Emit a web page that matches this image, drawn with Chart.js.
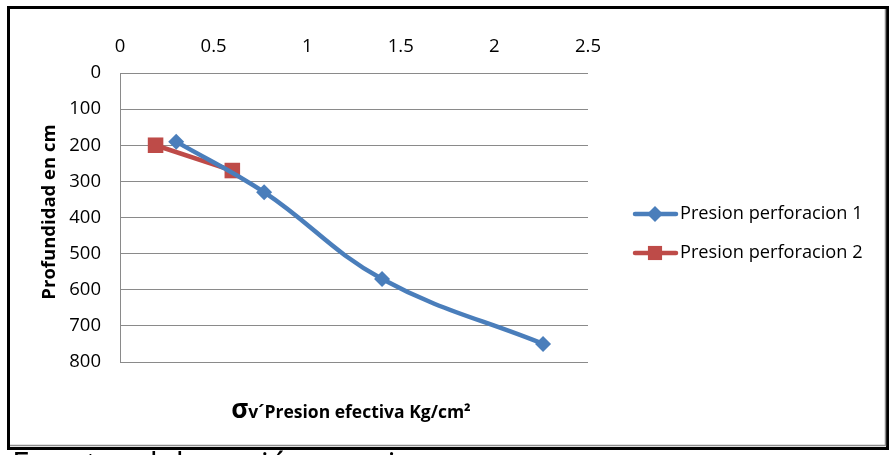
<!DOCTYPE html>
<html>
<head>
<meta charset="utf-8">
<script src="https://cdn.jsdelivr.net/npm/chart.js@4/dist/chart.umd.min.js"></script>
<style>
  html, body { margin: 0; padding: 0; background: #fff; }
  canvas { display: block; }
</style>
</head>
<body>
<canvas id="c" width="890" height="455"></canvas>
<script>
// Effective pressure (kg/cm²) against depth (cm) for two borings
const presion1 = [0.30, 0.77, 1.40, 2.26];
const profundidad1 = [190, 330, 570, 750];
const presion2 = [0.19, 0.60];
const profundidad2 = [200, 270];

const xTicks = [0, 0.5, 1, 1.5, 2, 2.5];
const yTicks = [0, 100, 200, 300, 400, 500, 600, 700, 800];

const seriesNames = ['Presion perforacion 1', 'Presion perforacion 2'];
const yTitle = 'Profundidad en cm';
const xTitleSymbol = 'σ';
const xTitleRest = 'v´Presion efectiva Kg/cm²';
const caption = 'Fuente: elaboración propia';

const BLUE = '#4A7EBB';
const RED = '#BE4B48';
const FONT = '"Open Sans", "Noto Sans", sans-serif';

const toPoints = (xs, ys) => xs.map((x, i) => ({ x, y: ys[i] }));

// Frame, axis titles, legend and caption drawn on the canvas
const decorations = {
  id: 'decorations',
  beforeDraw(chart) {
    const ctx = chart.ctx;
    ctx.save();
    ctx.fillStyle = '#fff';
    ctx.fillRect(0, 0, chart.width, chart.height);
    ctx.restore();
  },
  afterDraw(chart) {
    const ctx = chart.ctx;
    ctx.save();

    // outer frame with a light inner shadow
    ctx.strokeStyle = '#000';
    ctx.lineWidth = 3;
    ctx.strokeRect(8.5, 7.5, 879, 441);
    ctx.strokeStyle = '#8c8c8c';
    ctx.lineWidth = 1.5;
    ctx.beginPath();
    ctx.moveTo(10, 445.5); ctx.lineTo(885.5, 445.5); ctx.lineTo(885.5, 9);
    ctx.stroke();

    // y axis title
    ctx.fillStyle = '#000';
    ctx.font = 'bold 18.5px ' + FONT;
    ctx.textAlign = 'center';
    ctx.textBaseline = 'middle';
    ctx.translate(50, 212);
    ctx.rotate(-Math.PI / 2);
    ctx.fillText(yTitle, 0, 0);
    ctx.setTransform(1, 0, 0, 1, 0, 0);

    // x axis title under the plot
    ctx.textAlign = 'left';
    ctx.textBaseline = 'alphabetic';
    ctx.font = 'bold 26px ' + FONT;
    const wSym = ctx.measureText(xTitleSymbol).width;
    ctx.font = 'bold 17.5px ' + FONT;
    const wRest = ctx.measureText(xTitleRest).width;
    const x0 = 351 - (wSym + wRest) / 2;
    ctx.font = 'bold 26px ' + FONT;
    ctx.fillText(xTitleSymbol, x0, 418);
    ctx.font = 'bold 17.5px ' + FONT;
    ctx.fillText(xTitleRest, x0 + wSym, 418);

    // legend: line sample with marker
    const items = [
      { y: 214, color: BLUE, style: 'rectRot', radius: 8 },
      { y: 253, color: RED, style: 'rect', radius: 10 }
    ];
    items.forEach((it, i) => {
      ctx.strokeStyle = it.color;
      ctx.lineWidth = 4.5;
      ctx.lineCap = 'round';
      ctx.beginPath();
      ctx.moveTo(635, it.y); ctx.lineTo(676, it.y);
      ctx.stroke();
      ctx.fillStyle = it.color;
      Chart.helpers.drawPoint(ctx, { pointStyle: it.style, radius: it.radius, borderWidth: 0 }, 655, it.y);
      ctx.fillStyle = '#000';
      ctx.font = '18.2px ' + FONT;
      ctx.textAlign = 'left';
      ctx.textBaseline = 'middle';
      ctx.fillText(seriesNames[i], 680, it.y);
    });

    // caption below the frame (mostly cut off by the page edge)
    ctx.fillStyle = '#000';
    ctx.font = '32px ' + FONT;
    ctx.textBaseline = 'alphabetic';
    ctx.fillText(caption, 12, 476);

    ctx.restore();
  }
};

new Chart(document.getElementById('c'), {
  type: 'scatter',
  data: {
    datasets: [
      {
        label: seriesNames[0],
        data: toPoints(presion1, profundidad1),
        showLine: true,
        borderColor: BLUE,
        backgroundColor: BLUE,
        borderWidth: 4.5,
        tension: 0.4,
        pointStyle: 'rectRot',
        pointRadius: 8,
        pointBorderWidth: 0,
        pointHoverRadius: 8
      },
      {
        label: seriesNames[1],
        data: toPoints(presion2, profundidad2),
        showLine: true,
        borderColor: RED,
        backgroundColor: RED,
        borderWidth: 4.5,
        tension: 0,
        pointStyle: 'rect',
        pointRadius: 11,
        pointBorderWidth: 0,
        pointHoverRadius: 11
      }
    ]
  },
  options: {
    responsive: false,
    animation: false,
    layout: { padding: { left: 20, top: 20, right: 302, bottom: 93 } },
    plugins: {
      legend: { display: false },
      tooltip: { enabled: false }
    },
    scales: {
      x: {
        type: 'linear',
        position: 'top',
        min: 0,
        max: 2.5,
        afterBuildTicks: (s) => { s.ticks = xTicks.map(v => ({ value: v })); },
        afterFit: (s) => { s.height = 53; },
        ticks: {
          color: '#000',
          font: { family: FONT, size: 18.5 },
          padding: 15,
          maxRotation: 0,
          callback: (v) => String(v)
        },
        grid: { display: false, drawTicks: false },
        border: { display: false }
      },
      y: {
        type: 'linear',
        reverse: true,
        min: 0,
        max: 800,
        afterBuildTicks: (s) => { s.ticks = yTicks.map(v => ({ value: v })); },
        afterFit: (s) => { s.width = 100; },
        ticks: {
          color: '#000',
          font: { family: FONT, size: 18.5 },
          padding: 19
        },
        grid: { color: '#8a8a8a', lineWidth: 1, drawTicks: false },
        border: { display: true, color: '#8a8a8a', width: 1 }
      }
    }
  },
  plugins: [decorations]
});
</script>
</body>
</html>
